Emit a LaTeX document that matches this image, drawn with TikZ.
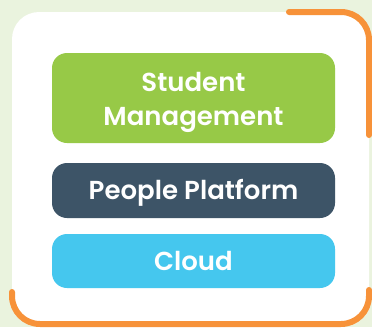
\documentclass[tikz,border=0pt]{standalone}
\usepackage{fontspec}
\setmainfont{Poppins}[BoldFont={Poppins SemiBold}]
\definecolor{bgc}{HTML}{EAF3DE}
\definecolor{grn}{HTML}{97C947}
\definecolor{slate}{HTML}{3D5467}
\definecolor{cyn}{HTML}{45C7EE}
\definecolor{orng}{HTML}{F79239}
\tikzset{
  box/.style={rounded corners=15pt, minimum width=283pt, inner sep=0pt, draw=none},
  lbl/.style={text=white, font=\fontsize{26}{30}\selectfont\bfseries, inner sep=0pt},
  capline/.style={lbl, text height=18pt, text depth=0pt},
  orangeline/.style={draw=orng, line width=6pt, line cap=round, rounded corners=28pt}
}
\begin{document}
\begin{tikzpicture}[x=1pt,y=-1pt]
\useasboundingbox (0,0) rectangle (372,327);
\fill[bgc] (0,0) rectangle (372,327);
\fill[white, rounded corners=27pt] (12,12) rectangle (369,324);
\draw[orangeline] (289,12) -| (369,135);
\draw[orangeline] (12,292) |- (369,324) -- (369,290);
\node[box, fill=grn, minimum height=90pt] (sm) at (193.5,98) {};
\node[lbl, anchor=base] (smt1) at (193.5,91) {Student};
\node[lbl, anchor=base] (smt2) at (193.5,125) {Management};
\node[box, fill=slate, minimum height=55pt] (pp) at (193.5,190.5) {};
\node[capline] (ppt) at (pp.center) {People Platform};
\node[box, fill=cyn, minimum height=54pt] (cl) at (193.5,261) {};
\node[capline] (clt) at (cl.center) {Cloud};
\end{tikzpicture}
\end{document}
